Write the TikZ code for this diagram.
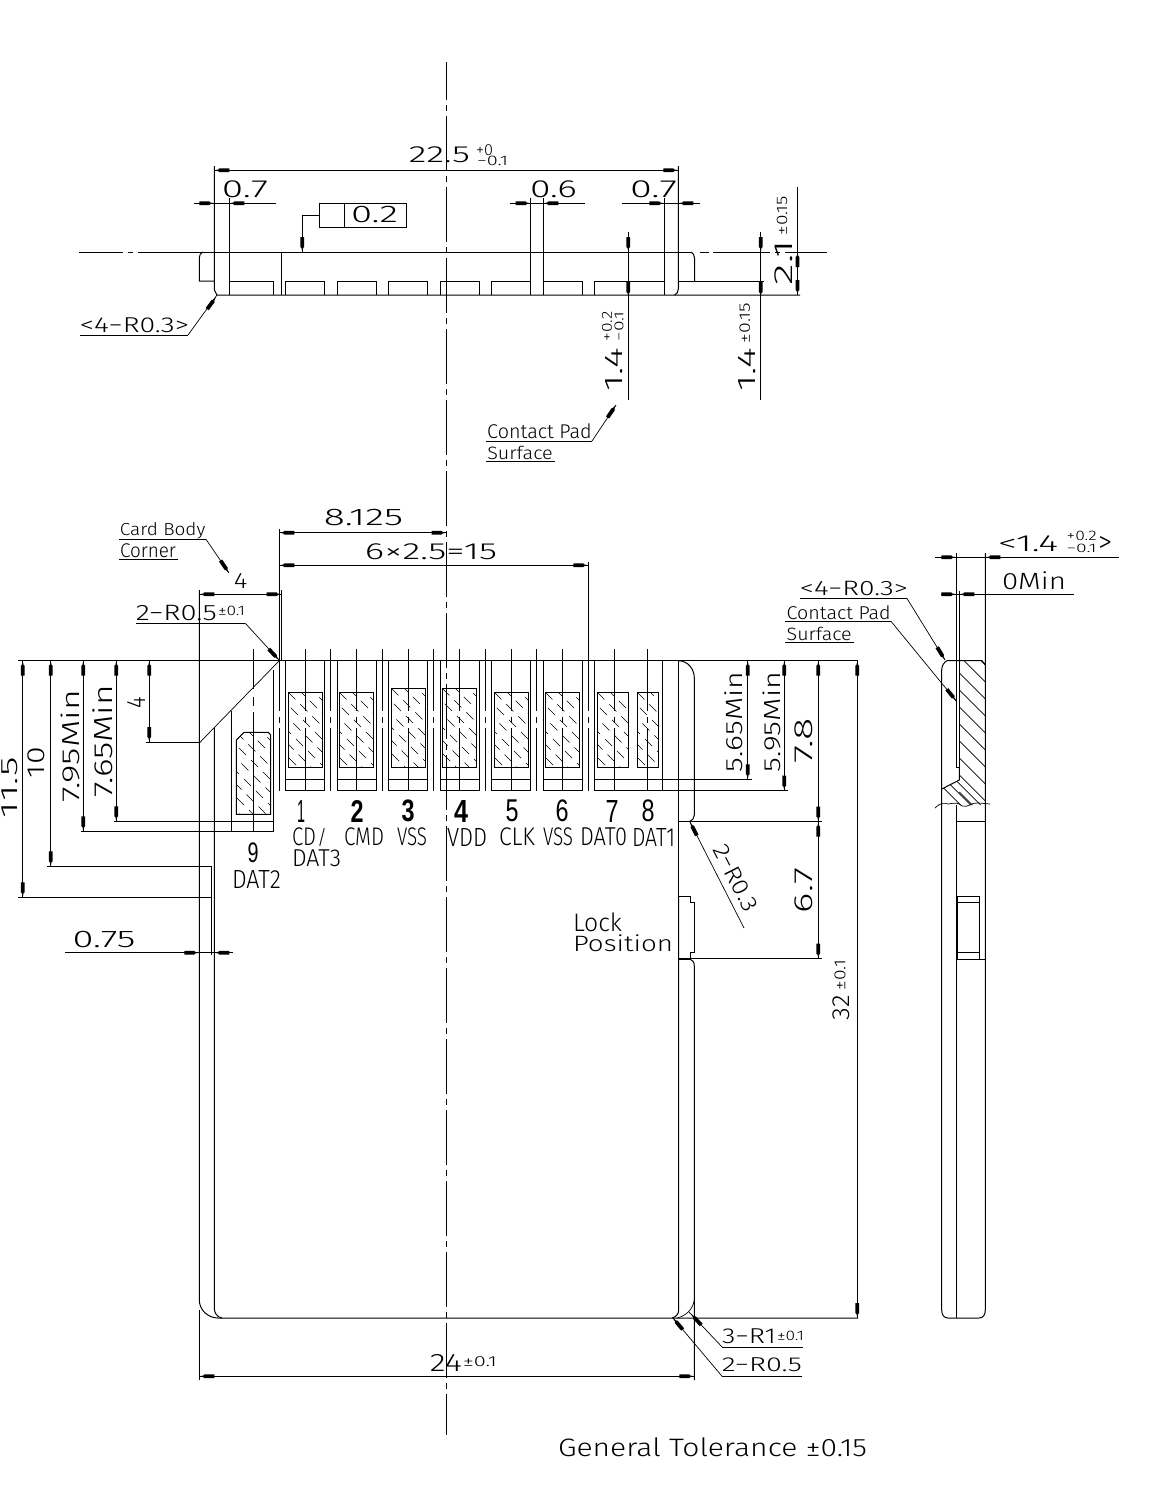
\documentclass[tikz,border=0pt]{standalone}
\usepackage{graphicx}
\usepackage{fontspec}
\setmainfont{Fira Sans Light}
\newfontfamily\numf{Liberation Sans}
\tikzset{
 ln/.style={line width=1pt,black},
 thn/.style={line width=.7pt,black},
 hl/.style={line width=.6pt,black,dash pattern=on 10pt off 7pt},
 ctr/.style={line width=1pt,black,dash pattern=on 55pt off 5pt on 6pt off 5pt,dash phase=17pt},
 tick/.style={line width=1pt,black,dash pattern=on 62pt off 6pt on 6pt off 5pt on 200pt off 1pt},
 tickn/.style={line width=1pt,black,dash pattern=on 40pt off 8pt on 9pt off 6pt on 200pt off 1pt},
 txt/.style={inner sep=0pt,outer sep=0pt,anchor=center,black}
}
% name, cx, cy, w, h, rot, text
\newcommand\T[7]{\node[txt,rotate=#6] (#1) at (#2,#3) {\resizebox*{#4pt}{#5pt}{#7}};}
% tip x, tip y, direction
\newcommand\ah[3]{\fill[black,shift={(#1,#2)},rotate=#3] (0,0)--(-4,-.8)--(-5,-1.9)--(-15,-1.9)--(-15,1.9)--(-5,1.9)--(-4,.8)--cycle;}
\newcommand\hatch[4]{\begin{scope}\clip (#1,#2) rectangle (#3,#4);
 \foreach \k in {-8,...,4}{\draw[hl,dash phase=\k*5pt] ({#1+\k*13},#2) -- ++(110,110);}
 \end{scope}\draw[ln] (#1,#2) rectangle (#3,#4);}
\begin{document}
\begin{tikzpicture}[x=1pt,y=-1pt]
\useasboundingbox (0,0) rectangle (1153,1500);
\fill[white] (0,0) rectangle (1153,1500);
% centre line
\draw[ctr] (446.5,62) -- (446.5,1435);
%%% TOP VIEW
\draw[ln] (79,252) -- (123,252) (128,252) -- (133,252) (138,252) -- (692,252) (700,252) -- (709,252) (713,252) -- (770,252) (775,252)--(780,252) (785,252)--(827,252);
\draw[ln] (203,252) .. controls (200.5,253) and (199.3,255) .. (199.3,258) -- (199.3,281) -- (214.3,281);
\draw[ln] (214.3,166) -- (214.3,290) -- (217,295) -- (800,295);
\draw[ln] (678.3,166) -- (678.3,289) .. controls (678.3,292) and (677,294) .. (674.5,295);
\draw[ln] (691,252) .. controls (693,253) and (694.5,255) .. (694.5,258) -- (694.5,281);
\draw[ln] (678.3,281) -- (764,281);
\draw[ln] (229.3,198) -- (229.3,295) (281.3,252) -- (281.3,295);
\draw[ln] (530.7,198) -- (530.7,295) (543.3,198) -- (543.3,295) (664.3,198) -- (664.3,295);
\foreach \a/\b in {229.3/273.7,285.3/324.7,337.3/376.7,388.3/427.7,440.3/479.3,491.3/530.7,543.3/582.3,594.3/664.3}{
 \draw[ln] (\a,295) -- (\a,281) -- (\b,281) -- (\b,295);}
% dims
\draw[ln] (214.3,170.3) -- (678.3,170.3); \ah{214.3}{170.3}{180} \ah{678.3}{170.3}{0}
\draw[ln] (194,203.3) -- (276,203.3); \ah{214.3}{203.3}{0} \ah{229.3}{203.3}{180}
\draw[ln] (510,203.3) -- (585,203.3); \ah{530.7}{203.3}{0} \ah{543.3}{203.3}{180}
\draw[ln] (622,203.3) -- (700,203.3); \ah{664.3}{203.3}{0} \ah{678.3}{203.3}{180}
\draw[ln] (628.3,232) -- (628.3,400); \ah{628.3}{252}{270} \ah{628.3}{297}{270}
\draw[ln] (760.7,232) -- (760.7,400); \ah{760.7}{252}{270} \ah{760.7}{297}{270}
\draw[ln] (797.5,187) -- (797.5,295); \ah{797.5}{252}{90} \ah{797.5}{295}{270}
% tolerance frame
\draw[ln] (319.3,203.3) rectangle (406.7,227.3) (344.3,203.3) -- (344.3,227.3);
\draw[ln] (319.3,215.3) -- (302.3,215.3) -- (302.3,252); \ah{302.3}{252}{270}
% leaders
\draw[ln] (80,335) -- (188,335); \draw[thn] (188,335) -- (217,295); \ah{216}{297}{54}
\draw[ln] (486,441) -- (592,441) (486,461) -- (555,461); \draw[thn] (592,441) -- (616,405); \ah{616}{405}{56}
\T{a225}{439.5}{155}{61}{16}{0}{22.5}
\T{a225p}{484.5}{150}{17}{11}{0}{+0}
\T{a225m}{492.5}{161}{31}{9.5}{0}{−0.1}
\T{a07l}{245}{189.5}{46}{17}{0}{0.7}
\T{a06}{553.5}{189.5}{47}{17}{0}{0.6}
\T{a07r}{653.5}{189.5}{47}{17}{0}{0.7}
\T{a02}{374.5}{215}{47}{16.5}{0}{0.2}
\T{a4r}{134.5}{325}{109}{15}{0}{<4−R0.3>}
\T{a14}{614.5}{370}{43.5}{17.5}{90}{1.4}
\T{a14p}{607}{326.5}{30}{10}{90}{+0.2}
\T{a14m}{619}{326.5}{30}{9}{90}{−0.1}
\T{b14}{747}{370}{43.5}{17.5}{90}{1.4}
\T{b14t}{744.7}{323}{40}{10.5}{90}{±0.15}
\T{c21}{784}{262.5}{45}{18}{90}{2.1}
\T{c21t}{782}{215.5}{39}{10.5}{90}{±0.15}
\T{cp1}{539.5}{431.5}{104.5}{15}{0}{Contact Pad}
\T{cp2}{520}{452.5}{65.5}{13.5}{0}{Surface}
%%% FRONT VIEW
\draw[ln] (18,660.7) -- (858,660.7);
\draw[thn] (279.3,660.7) -- (199.3,743);
\draw[ln] (199.3,590) -- (199.3,1300) .. controls (199.3,1310) and (208,1318) .. (218,1318) -- (858,1318);
\draw[ln] (199.3,1310) -- (199.3,1380);
\draw[ln] (214.3,728) -- (214.3,1308) .. controls (214.3,1313) and (217,1317) .. (222,1318);
\draw[ln] (231.5,711) -- (231.5,831.3) (273.5,670) -- (273.5,831.3);
\draw[tickn] (253.3,649) -- (253.3,831.3);
\draw[ln] (81,831.3) -- (273.5,831.3) (114,821.3) -- (273.5,821.3) (146,742) -- (199.3,742);
\draw[ln] (47,866.3) -- (211.7,866.3) -- (211.7,955) (18,897.3) -- (211.7,897.3);
\draw[ln] (22.7,660.7) -- (22.7,897.3); \ah{22.7}{660.7}{90} \ah{22.7}{897.3}{270}
\draw[ln] (50.7,660.7) -- (50.7,866.3); \ah{50.7}{660.7}{90} \ah{50.7}{866.3}{270}
\draw[ln] (83.3,660.7) -- (83.3,831.3); \ah{83.3}{660.7}{90} \ah{83.3}{831.3}{270}
\draw[ln] (116.3,660.7) -- (116.3,821.3); \ah{116.3}{660.7}{90} \ah{116.3}{821.3}{270}
\draw[ln] (149.3,660.7) -- (149.3,742); \ah{149.3}{660.7}{90} \ah{149.3}{742}{270}
% ticks between pads
\draw[ln] (279.3,529) -- (279.3,711) (279.3,717) -- (279.3,723) (279.3,728) -- (279.3,790.7);
\draw[ln] (281.7,590) -- (281.7,660.7);
\foreach \x in {330.3,382.3,433.7,485.3,536.7}{\draw[tick] (\x,649) -- (\x,790.7);}
\draw[ln] (588.3,562) -- (588.3,711) (588.3,717) -- (588.3,723) (588.3,728) -- (588.3,790.7);
% pads
\foreach \a/\b/\c in {285.3/324.3/305.3,337.3/376.3/356.3,388.3/427.3/408.3,440.5/479.3/459.3,491.3/530.3/511.3,543.3/582.3/562.3}{
 \draw[ln] (\a,660.7) -- (\a,790.7) -- (\b,790.7) -- (\b,660.7) (\a,779.3) -- (\b,779.3);
}
\hatch{288.3}{692.3}{322.7}{767.3}
\hatch{339.3}{692.3}{373.7}{767.3}
\hatch{391.3}{688.3}{425.7}{767.3}
\hatch{442.3}{688.3}{476.7}{767.3}
\hatch{494.3}{692.3}{528.7}{767.3}
\hatch{545.3}{692.3}{579.7}{767.3}
\hatch{597.3}{692.3}{628.7}{767.3}
\hatch{637.3}{692.3}{658.7}{767.3}
\foreach \c in {305.3,356.3,408.3,459.3,511.3,562.3,614.3,647.7}{\draw[tick] (\c,649) -- (\c,790.7);}
\draw[ln] (594.3,660.7) -- (594.3,790.7) (662.3,660.7) -- (662.3,790.7);
\draw[ln] (594.3,779.3) -- (752,779.3) (594.3,790.7) -- (788,790.7);
% pad 9
\begin{scope}
\clip (244,732.3) -- (268.3,732.3) -- (270.7,735) -- (270.7,814.3) -- (236.3,814.3) -- (236.3,740) -- cycle;
\foreach \k in {-8,...,4}{\draw[hl,dash phase=\k*5pt] ({236.3+\k*13},732.3) -- ++(110,110);}
\end{scope}
\draw[ln] (244,732.3) -- (268.3,732.3) -- (270.7,735) -- (270.7,814.3) -- (236.3,814.3) -- (236.3,740) -- cycle;
% right edge
\draw[ln] (678.7,660.7) -- (678.7,896.3) -- (690,896.3) -- (690,902) -- (694.3,902) -- (694.3,952) -- (690,952) -- (690,958.7);
\draw[ln] (678.7,660.7) .. controls (688,661) and (694.3,669) .. (694.3,678) -- (694.3,815) .. controls (694.3,818) and (692.5,820.5) .. (689.5,821.7);
\draw[ln] (678.7,821.7) -- (821.7,821.7);
\draw[line width=1.6pt] (678.7,958.7) -- (690,958.7);
\draw[ln] (690,958.7) -- (821.7,958.7);
\draw[ln] (690,959) .. controls (692.5,960) and (694.3,962) .. (694.3,966) -- (694.3,1380);
\draw[ln] (678.7,896.3) -- (678.7,1310) .. controls (678.7,1314) and (676,1317) .. (672,1318);
\draw[thn] (694.3,1300) .. controls (693,1309) and (686,1316) .. (677,1318);
% top dims
\draw[ln] (279.3,532.7) -- (446.5,532.7); \ah{279.3}{532.7}{180} \ah{446.5}{532.7}{0}
\draw[ln] (279.3,565.3) -- (588.3,565.3); \ah{279.3}{565.3}{180} \ah{588.3}{565.3}{0}
\draw[ln] (199.3,594.3) -- (281.7,594.3); \ah{199.3}{594.3}{180} \ah{281.7}{594.3}{0}
\draw[ln] (65,952.7) -- (232.7,952.7); \ah{199.3}{952.7}{0} \ah{214.3}{952.7}{180}
\draw[ln] (119,539.3) -- (206,539.3) (119,559) -- (178,559); \draw[thn] (206,539.3) -- (229,573); \ah{229}{573}{304}
\draw[ln] (136,623.3) -- (245.3,623.3); \draw[thn] (245.3,623.3) -- (279,660); \ah{279}{660}{313}
\draw[thn] (690,822) -- (744,928); \ah{690}{822}{117}
% right dims
\draw[ln] (857.3,660.7) -- (857.3,1318); \ah{857.3}{660.7}{90} \ah{857.3}{1318}{270}
\draw[ln] (818.3,660.7) -- (818.3,958.7); \ah{818.3}{660.7}{90} \ah{818.3}{821.7}{270} \ah{818.3}{821.7}{90} \ah{818.3}{958.7}{270}
\draw[ln] (784.3,660.7) -- (784.3,790.7); \ah{784.3}{660.7}{90} \ah{784.3}{790.7}{270}
\draw[ln] (747.7,660.7) -- (747.7,779.3); \ah{747.7}{660.7}{90} \ah{747.7}{779.3}{270}
% bottom
\draw[ln] (199.3,1376.3) -- (694.3,1376.3); \ah{199.3}{1376.3}{180} \ah{694.3}{1376.3}{0}
\draw[ln] (722.4,1347.3) -- (803,1347.3) (722.4,1376.7) -- (802,1376.7);
\draw[thn] (722.4,1347.3) -- (689,1312); \ah{691}{1314}{133}
\draw[thn] (722.4,1376.7) -- (673,1318); \ah{673}{1318}{130}
% texts front
\T{f1}{162.7}{530.8}{85.5}{16.5}{0}{Card Body}
\T{f2}{148}{551}{56}{14}{0}{Corner}
\T{f3}{363.5}{518}{79}{16.5}{0}{8.125}
\T{f4}{431}{552}{132}{16}{0}{6×2.5=15}
\T{f5}{240.5}{580.5}{13.5}{15}{0}{4}
\T{f6}{176.5}{612.8}{81}{15.5}{0}{2−R0.5}
\T{f7}{231.5}{611}{27}{9.5}{0}{±0.1}
\T{f8}{104}{939}{63}{16.5}{0}{0.75}
\T{g1}{9.5}{787.5}{61}{16}{90}{11.5}
\T{g2}{36.5}{762.5}{31}{17}{90}{10}
\T{g3}{70.5}{746}{112}{19}{90}{7.95Min}
\T{g4}{103}{741}{112}{20}{90}{7.65Min}
\T{g5}{136}{702.5}{11.5}{18}{90}{4}
\node[txt] (n1) at (301,811) {\numf\resizebox*{8pt}{22pt}{1}};
\node[txt] (n2) at (357,811) {\numf\bfseries\resizebox*{13pt}{22pt}{2}};
\node[txt] (n3) at (408,811) {\numf\bfseries\resizebox*{13pt}{22pt}{3}};
\node[txt] (n4) at (461,811) {\numf\bfseries\resizebox*{14pt}{22pt}{4}};
\node[txt] (n5) at (512,811) {\numf\resizebox*{13pt}{22pt}{5}};
\node[txt] (n6) at (562,811) {\numf\resizebox*{13pt}{22pt}{6}};
\node[txt] (n7) at (612,811) {\numf\resizebox*{13pt}{22pt}{7}};
\node[txt] (n8) at (648,811) {\numf\resizebox*{13pt}{22pt}{8}};
\node[txt] (n9) at (253,853) {\numf\resizebox*{11pt}{20pt}{9}};
\T{p1}{304}{837}{24}{18}{0}{CD}
\T{p1s}{322}{837}{10}{18}{0}{/}
\T{p1b}{316.5}{858.5}{49}{17}{0}{DAT3}
\T{p2}{364}{837}{40}{18}{0}{CMD}
\T{p3}{412}{837}{30}{18}{0}{VSS}
\T{p4}{467}{837}{40}{18}{0}{VDD}
\T{p5}{517}{837}{36}{18}{0}{CLK}
\T{p6}{558}{837}{30}{18}{0}{VSS}
\T{p7}{603.5}{837}{47}{18}{0}{DAT0}
\T{p8}{653.5}{837}{43}{18}{0}{DAT1}
\T{p9}{256.5}{879}{49}{18}{0}{DAT2}
\T{l1}{597.5}{922.5}{49}{19}{0}{Lock}
\T{l2}{623}{943.5}{100}{17}{0}{Position}
\T{r1}{736}{878}{72}{16}{-63}{2−R0.3}
\T{h1}{734}{722}{100}{18}{90}{5.65Min}
\T{h2}{771.5}{722}{100}{18}{90}{5.95Min}
\T{h3}{804}{740.5}{45}{18}{90}{7.8}
\T{h4}{804}{890.5}{45}{18}{90}{6.7}
\T{h5}{841.5}{1007.5}{25}{17}{90}{32}
\T{h6}{840}{975}{30}{11}{90}{±0.1}
\T{q1}{446}{1362.5}{32}{17}{0}{24}
\T{q2}{480}{1361.5}{34}{10}{0}{±0.1}
\T{q3}{749}{1336.5}{54}{15}{0}{3−R1}
\T{q4}{790.5}{1336}{27}{9.5}{0}{±0.1}
\T{q5}{762}{1365}{80}{14}{0}{2−R0.5}
\T{q6}{712.5}{1447.5}{309}{19}{0}{General Tolerance ±0.15}
%%% SIDE VIEW
\draw[ln] (956.3,553) -- (956.3,767) -- (959.3,767) -- (959.3,591);
\draw[ln] (985.3,553) -- (985.3,1310) .. controls (985.3,1315) and (983,1318) .. (979,1318) -- (948,1318) .. controls (944,1318) and (941.7,1315) .. (941.7,1310) -- (941.7,670) .. controls (941.7,666) and (944,662) .. (947,660.7) -- (982,660.7) -- (985.3,665);
\draw[ln] (956.3,805) -- (956.3,1318);
\draw[ln] (959.3,767) -- (959.3,780) -- (941.7,789);
\draw[thn] (935,808) .. controls (941,802) and (945,803) .. (948,804) .. controls (955,803) and (958,802) .. (962,806) .. controls (968,808) and (972,802) .. (978,803) .. controls (983,803) and (986,804) .. (990,804);
\begin{scope}
\clip (959.3,660.7) -- (985.3,660.7) -- (985.3,805) -- (941.7,805) -- (941.7,789) -- (959.3,780) -- cycle;
\foreach \k in {-2,...,7}{\draw[thn] (959.3,{673+\k*17}) -- ++(60,60);}
\foreach \k in {0,...,2}{\draw[thn] ({941.7+\k*10-6},780) -- ++(40,40);}
\end{scope}
\draw[ln] (956.3,821.7) -- (985.3,821.7) (956.7,959) -- (985.3,959);
\draw[ln] (957.3,896) rectangle (979.7,959) (957.3,902.3) -- (979.7,902.3) (957.3,952.7) -- (979.7,952.7);
% side dims
\draw[ln] (935,557.3) -- (1119,557.3); \ah{956.3}{557.3}{0} \ah{985.3}{557.3}{180}
\draw[ln] (941,594.3) -- (1074,594.3); \ah{956.3}{594.3}{0} \ah{959.3}{594.3}{180}
\draw[ln] (800,598) -- (906.7,598) (785,621.3) -- (891,621.3) (785,642.3) -- (854,642.3);
\draw[thn] (906.7,598) -- (945,660); \ah{945}{660}{301.5}
\draw[thn] (891,621.3) -- (956.3,701); \ah{956.3}{701}{309}
\T{s1}{1028}{544}{60}{16}{0}{<1.4}
\T{s2}{1081.7}{536}{30}{9.5}{0}{+0.2}
\T{s3}{1081.7}{548}{30}{8.5}{0}{−0.1}
\T{s4}{1105}{544}{14}{16}{0}{>}
\T{s5}{1034}{581}{64}{18}{0}{0Min}
\T{s6}{854}{588}{108}{14.5}{0}{<4−R0.3>}
\T{s7}{838.7}{613}{104}{14}{0}{Contact Pad}
\T{s8}{819.2}{634}{65}{13.5}{0}{Surface}
\end{tikzpicture}
\end{document}
